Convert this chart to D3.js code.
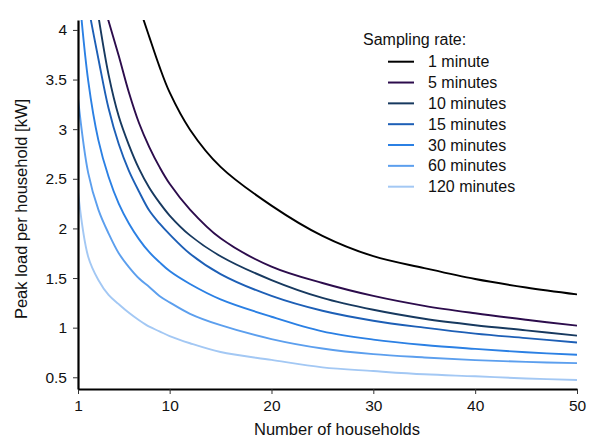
<!DOCTYPE html>
<html>
<head>
<meta charset="utf-8">
<script src="https://cdn.jsdelivr.net/npm/d3@7"></script>
<style>
  body { margin: 0; background: #fff; }
  svg { display: block; font-family: "Liberation Sans", Arial, sans-serif; }
</style>
</head>
<body>
<div id="chart"></div>
<script>
var households = [1, 2, 3, 4, 5, 6, 7, 8, 9, 10, 12, 15, 20, 25, 30, 35, 40, 45, 50];

var rateLabels = ["1 minute", "5 minutes", "10 minutes", "15 minutes", "30 minutes", "60 minutes", "120 minutes"];
var rateColors = ["#000000", "#2c0c4c", "#17395f", "#1d5fb6", "#2b80e4", "#5c9fee", "#a3c8f4"];

// peak load per household [kW], null = above the plotted range
var load1 = [null, null, null, null, null, 4.58, 4.24, 3.93, 3.63, 3.37, 2.995, 2.62, 2.23, 1.925, 1.72, 1.60, 1.49, 1.405, 1.335];
var load5 = [null, null, 4.45, 4.09, 3.74, 3.37, 3.06, 2.82, 2.62, 2.45, 2.19, 1.90, 1.615, 1.45, 1.32, 1.22, 1.145, 1.08, 1.02];
var load10 = [null, 4.8, 4.14, 3.55, 3.13, 2.84, 2.60, 2.41, 2.26, 2.13, 1.93, 1.72, 1.48, 1.30, 1.18, 1.09, 1.025, 0.973, 0.92];
var load15 = [null, 4.24, 3.71, 3.21, 2.85, 2.58, 2.37, 2.18, 2.05, 1.94, 1.745, 1.54, 1.32, 1.17, 1.07, 1.0, 0.94, 0.895, 0.85];
var load30 = [4.5, 3.49, 2.89, 2.52, 2.25, 2.05, 1.89, 1.76, 1.66, 1.57, 1.44, 1.285, 1.11, 0.963, 0.88, 0.825, 0.786, 0.752, 0.727];
var load60 = [3.31, 2.56, 2.19, 1.95, 1.75, 1.61, 1.495, 1.41, 1.32, 1.255, 1.14, 1.025, 0.885, 0.79, 0.733, 0.70, 0.673, 0.655, 0.643];
var load120 = [2.37, 1.715, 1.48, 1.33, 1.237, 1.15, 1.075, 1.01, 0.963, 0.915, 0.843, 0.755, 0.675, 0.60, 0.563, 0.53, 0.51, 0.488, 0.472];

var xTicks = [1, 10, 20, 30, 40, 50];
var yTicks = [0.5, 1, 1.5, 2, 2.5, 3, 3.5, 4];

(function () {
  var series = [load1, load5, load10, load15, load30, load60, load120].map(function (vals, i) {
    return {
      label: rateLabels[i],
      color: rateColors[i],
      points: households.map(function (n, j) { return { n: n, v: vals[j] }; })
    };
  });

  var width = 592, height = 437;
  var plotLeft = 78, plotRight = 577, plotTop = 20, plotBottom = 389;

  var svg = d3.select("#chart").append("svg")
    .attr("width", width)
    .attr("height", height);

  var x = d3.scaleLinear().domain([1, 50]).range([plotLeft, plotRight]);
  var y = d3.scaleLinear().domain([0.382, 4.1]).range([plotBottom, plotTop]);

  svg.append("defs").append("clipPath").attr("id", "plot-clip")
    .append("rect")
    .attr("x", plotLeft).attr("y", plotTop)
    .attr("width", plotRight - plotLeft).attr("height", plotBottom - plotTop);

  var line = d3.line()
    .defined(function (d) { return d.v != null; })
    .x(function (d) { return x(d.n); })
    .y(function (d) { return y(d.v); })
    .curve(d3.curveCatmullRom.alpha(0.5));

  svg.append("g").attr("clip-path", "url(#plot-clip)")
    .selectAll("path")
    .data(series)
    .enter()
    .append("path")
    .attr("fill", "none")
    .attr("stroke", function (d) { return d.color; })
    .attr("stroke-width", 1.9)
    .attr("d", function (d) { return line(d.points); });

  var xAxis = svg.append("g")
    .attr("transform", "translate(0," + plotBottom + ")")
    .call(d3.axisBottom(x).tickValues(xTicks).tickSize(5).tickPadding(6).tickSizeOuter(0));

  var yAxis = svg.append("g")
    .attr("transform", "translate(" + plotLeft + ",0)")
    .call(d3.axisLeft(y).tickValues(yTicks).tickFormat(d3.format("")).tickSize(5).tickPadding(6).tickSizeOuter(0));

  [xAxis, yAxis].forEach(function (ax) {
    ax.attr("font-size", 15.5).attr("font-family", "Liberation Sans, Arial, sans-serif");
    ax.select(".domain").attr("stroke", "#000").attr("stroke-width", 2.2);
    ax.selectAll(".tick line").attr("stroke", "#333").attr("stroke-width", 1);
    ax.selectAll(".tick text").attr("fill", "#111");
  });

  svg.append("text")
    .attr("x", 337)
    .attr("y", 435)
    .attr("text-anchor", "middle")
    .attr("font-size", 16.5)
    .attr("fill", "#111")
    .text("Number of households");

  svg.append("text")
    .attr("transform", "translate(27,209) rotate(-90)")
    .attr("text-anchor", "middle")
    .attr("font-size", 16.5)
    .attr("fill", "#111")
    .text("Peak load per household [kW]");

  // legend
  var legend = svg.append("g");
  legend.append("text")
    .attr("x", 363)
    .attr("y", 45)
    .attr("font-size", 16)
    .attr("fill", "#111")
    .text("Sampling rate:");

  var rows = legend.selectAll(".row")
    .data(series)
    .enter()
    .append("g")
    .attr("class", "row")
    .attr("transform", function (d, i) { return "translate(388," + (61.7 + i * 20.83) + ")"; });

  rows.append("line")
    .attr("x1", 0).attr("x2", 26)
    .attr("stroke", function (d) { return d.color; })
    .attr("stroke-width", 2);

  rows.append("text")
    .attr("x", 40)
    .attr("dy", "0.35em")
    .attr("font-size", 16)
    .attr("fill", "#111")
    .text(function (d) { return d.label; });
})();
</script>
</body>
</html>
